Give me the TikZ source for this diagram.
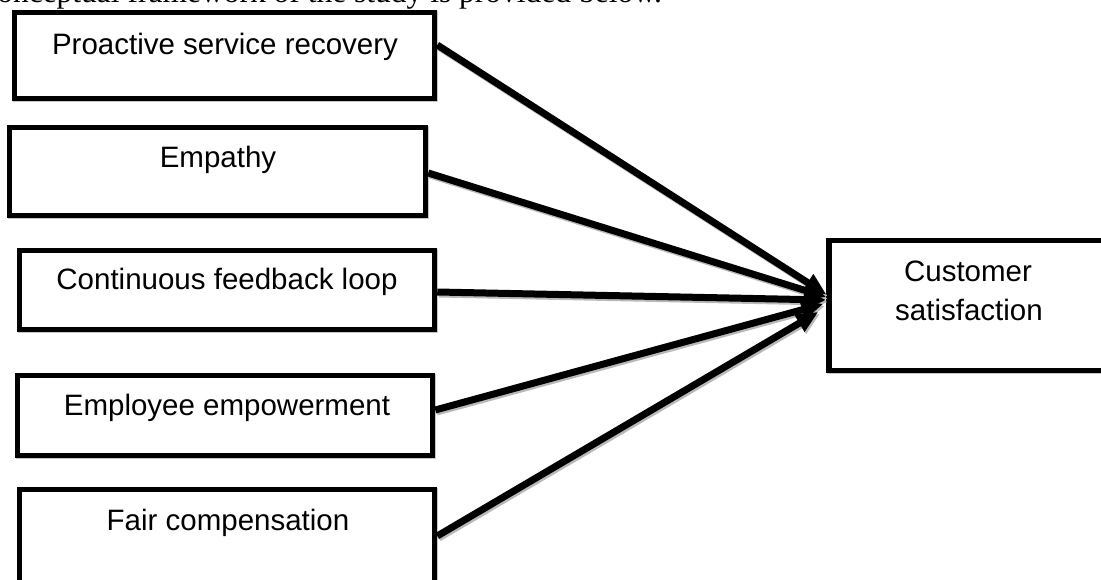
\documentclass[tikz,border=0pt]{standalone}
\usepackage{fontspec}
\setmainfont{Liberation Sans}
\newfontfamily\serifface{Liberation Serif}
\usetikzlibrary{arrows.meta,calc}
\tikzset{
  boxnode/.style={draw=black, line width=5.5pt, fill=white, inner sep=0pt,
    preaction={draw=gray!45, line width=5.5pt, transform canvas={shift={(1.2pt,-1.2pt)}}}},
  labeltext/.style={anchor=base, inner sep=0pt, font=\fontsize{29.5}{38}\selectfont},
  linkarrow/.style={line width=7pt, black, -{Triangle[length=22pt,width=19pt]},
    preaction={draw=gray!55, line width=7pt, -{Triangle[length=22pt,width=19pt]}, transform canvas={shift={(1.6pt,-2pt)}}}},
}
\begin{document}
\begin{tikzpicture}[x=1pt,y=-1pt]
\useasboundingbox (0,0) rectangle (1101,580);
\clip (0,0) rectangle (1101,580);
% cut-off caption line at the top
\node[anchor=base east, inner sep=0pt, font=\serifface\fontsize{31.5}{36}\selectfont] (cap) at (662,3) {Conceptual framework of the study is provided below.};
% boxes
\node[boxnode, minimum width=420pt, minimum height=86pt] (b1) at (224.5,55.5) {};
\node[boxnode, minimum width=416pt, minimum height=88pt] (b2) at (217.5,171.5) {};
\node[boxnode, minimum width=415pt, minimum height=79pt] (b3) at (227,290) {};
\node[boxnode, minimum width=415pt, minimum height=80pt] (b4) at (225,415.5) {};
\node[boxnode, minimum width=415pt, minimum height=93pt] (b5) at (227,536) {};
\node[boxnode, minimum width=278pt, minimum height=130pt] (cs) at (968,305.5) {};
% texts
\node[labeltext] (t1) at (225,55) {Proactive service recovery};
\node[labeltext] (t2) at (218,168) {Empathy};
\node[labeltext] (t3) at (227,290) {Continuous feedback loop};
\node[labeltext] (t4) at (227,415) {Employee empowerment};
\node[labeltext] (t5) at (228,530) {Fair compensation};
\node[labeltext] (t6) at (968,282) {Customer};
\node[labeltext] (t7) at (969,320) {satisfaction};
% arrows
\draw[linkarrow] ([yshift=10.5pt]b1.east) -- ([yshift=11pt]cs.west);
\draw[linkarrow] ([yshift=-1.5pt]b2.east) -- ([yshift=8.5pt]cs.west);
\draw[linkarrow] ([yshift=-2pt]b3.east) -- ([yshift=5.5pt]cs.west);
\draw[linkarrow] ([yshift=5.5pt]b4.east) -- ([xshift=-3pt,yshift=1.5pt]cs.west);
\draw[linkarrow] (b5.east) -- ([xshift=-8pt,yshift=-6.5pt]cs.west);
\end{tikzpicture}
\end{document}
